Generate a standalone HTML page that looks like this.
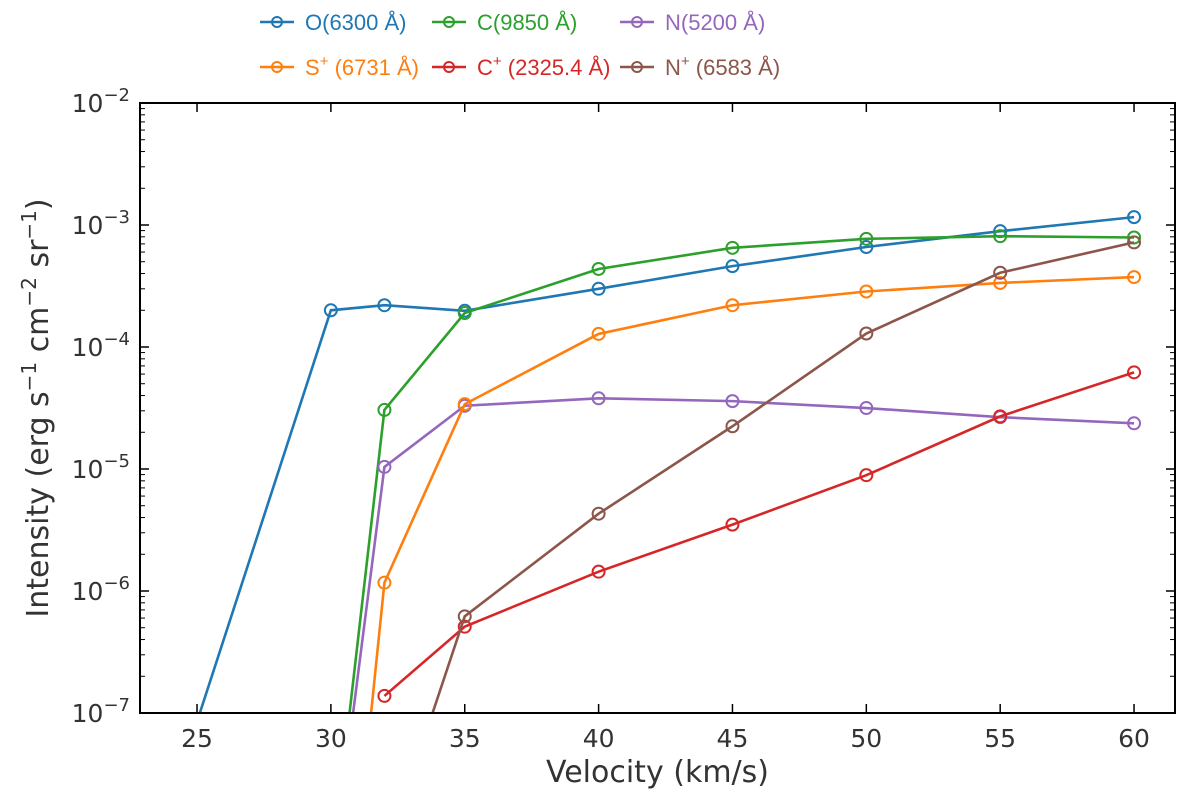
<!DOCTYPE html>
<html><head><meta charset="utf-8"><style>
html,body{margin:0;background:#fff;overflow:hidden;}
svg{display:block;}
svg text{font-family:"DejaVu Sans","Liberation Sans",sans-serif;}
</style></head><body>
<svg id="c" width="1200" height="796" xmlns="http://www.w3.org/2000/svg"></svg>
<script>
const seriesNames=["O(6300 Å)","C(9850 Å)","N(5200 Å)","S+(6731 Å)","C+(2325.4 Å)","N+(6583 Å)"];
const colors=["#1f77b4","#2ca02c","#9467bd","#ff7f0e","#d62728","#8c564b"];
const xO=[25,30,32,35,40,45,50,55,60];
const yO=[8.5e-8,2.0e-4,2.2e-4,1.98e-4,3.0e-4,4.6e-4,6.6e-4,8.9e-4,1.16e-3];
const xC=[30,32,35,40,45,50,55,60];
const yC=[4.7e-9,3.05e-5,1.9e-4,4.36e-4,6.5e-4,7.7e-4,8.1e-4,7.9e-4];
const xN=[30,32,35,40,45,50,55,60];
const yN=[3.7e-9,1.04e-5,3.3e-5,3.8e-5,3.6e-5,3.16e-5,2.66e-5,2.37e-5];
const xSp=[30,32,35,40,45,50,55,60];
const ySp=[6e-11,1.17e-6,3.4e-5,1.28e-4,2.2e-4,2.85e-4,3.35e-4,3.74e-4];
const xCp=[32,35,40,45,50,55,60];
const yCp=[1.38e-7,5.1e-7,1.44e-6,3.5e-6,8.9e-6,2.7e-5,6.2e-5];
const xNp=[32,35,40,45,50,55,60];
const yNp=[6.5e-9,6.2e-7,4.3e-6,2.24e-5,1.29e-4,4.06e-4,7.2e-4];
const xTicks=[25,30,35,40,45,50,55,60];
const yTickExp=[-7,-6,-5,-4,-3,-2];

const L=140,R=1175,T=103,B=713;
const xmin=22.87,xmax=61.53,ymin=-7,ymax=-2;
const X=v=>L+(v-xmin)/(xmax-xmin)*(R-L);
const Y=v=>B-(Math.log10(v)-ymin)/(ymax-ymin)*(B-T);
const svg=document.getElementById('c');
const NS="http://www.w3.org/2000/svg";
function mk(t,a,p){const e=document.createElementNS(NS,t);for(const k in a)e.setAttribute(k,a[k]);(p||svg).appendChild(e);return e;}
const defs=mk('defs',{});const cp=mk('clipPath',{id:'clip'},defs);mk('rect',{x:L,y:T,width:R-L,height:B-T},cp);
const g=mk('g',{'clip-path':'url(#clip)'});


const xs=[xO,xC,xN,xSp,xCp,xNp],ys=[yO,yC,yN,ySp,yCp,yNp];
const keys=['o-6300','c-9850','n-5200','s-plus-6731','c-plus-2325','n-plus-6583'];
for(let s=0;s<6;s++){
  const pts=xs[s].map((x,i)=>X(x)+','+Y(ys[s][i])).join(' ');
  const pl=mk('polyline',{points:pts,fill:'none',stroke:colors[s],'stroke-width':2.6},g);
  
  
  xs[s].forEach((x,i)=>{
    const c=mk('circle',{cx:X(x),cy:Y(ys[s][i]),r:6,fill:'none',stroke:colors[s],'stroke-width':2},g);
    
    
  });
}
const fr=mk('rect',{x:L,y:T,width:R-L,height:B-T,fill:'none',stroke:'#000','stroke-width':2});


xTicks.forEach(v=>{
  const x=X(v);
  mk('line',{x1:x,x2:x,y1:B,y2:B-9,stroke:'#000','stroke-width':1.5});
  mk('line',{x1:x,x2:x,y1:T,y2:T+9,stroke:'#000','stroke-width':1.5});
  const t=mk('text',{x:x,y:B+34,'text-anchor':'middle','font-size':25,fill:'#333'});t.textContent=v;
  
  
});
yTickExp.forEach(e=>{
  const y=Y(Math.pow(10,e));
  mk('line',{x1:L,x2:L+9,y1:y,y2:y,stroke:'#000','stroke-width':1.5});
  mk('line',{x1:R,x2:R-9,y1:y,y2:y,stroke:'#000','stroke-width':1.5});
  if(e<-2){for(let k=2;k<10;k++){const yy=Y(k*Math.pow(10,e));
    mk('line',{x1:L,x2:L+5,y1:yy,y2:yy,stroke:'#000','stroke-width':1});
    mk('line',{x1:R,x2:R-5,y1:yy,y2:yy,stroke:'#000','stroke-width':1});}}
  const t=mk('text',{x:L-10,y:y+9,'text-anchor':'end','font-size':25,fill:'#333'});
  t.innerHTML='10<tspan dy="-11" font-size="18">−'+(-e)+'</tspan>';
  
  
});
const xt=mk('text',{x:(L+R)/2,y:782,'text-anchor':'middle','font-size':30,fill:'#333'});xt.textContent='Velocity (km/s)';


const yt=mk('text',{x:0,y:0,'text-anchor':'middle','font-size':30,fill:'#333',transform:'translate(48,408) rotate(-90)'});
yt.innerHTML='Intensity (erg s<tspan dy="-12" font-size="20">−1</tspan><tspan dy="12"> cm</tspan><tspan dy="-12" font-size="20">−2</tspan><tspan dy="12"> sr</tspan><tspan dy="-12" font-size="20">−1</tspan><tspan dy="12">)</tspan>';


const legX=[260,432,620],legY=[22,67];
const labels=['O(6300 Å)','C(9850 Å)','N(5200 Å)','S<tspan dy="-9" font-size="15">+</tspan><tspan dy="9"> (6731 Å)</tspan>','C<tspan dy="-9" font-size="15">+</tspan><tspan dy="9"> (2325.4 Å)</tspan>','N<tspan dy="-9" font-size="15">+</tspan><tspan dy="9"> (6583 Å)</tspan>'];
for(let s=0;s<6;s++){
  const lx=legX[s%3],ly=legY[Math.floor(s/3)];
  const lg=mk('g',{});
  
  
  mk('line',{x1:lx,x2:lx+34,y1:ly,y2:ly,stroke:colors[s],'stroke-width':2.6},lg);
  mk('circle',{cx:lx+17,cy:ly,r:5,fill:'none',stroke:colors[s],'stroke-width':2},lg);
  const t=mk('text',{x:lx+45,y:ly+8,'font-size':22,fill:colors[s],style:'font-family:"Liberation Sans Narrow","Liberation Sans",sans-serif'},lg);t.innerHTML=labels[s];
}
</script>
</body></html>
